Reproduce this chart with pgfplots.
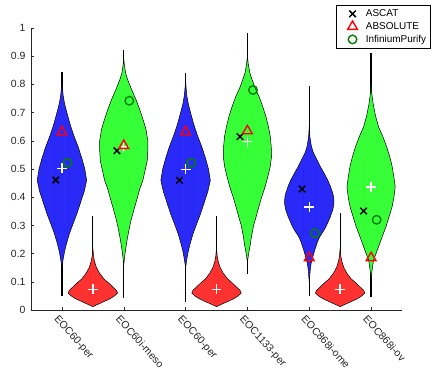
\documentclass[border=0pt]{standalone}
\usepackage{pgfplots}
\pgfplotsset{compat=1.18}
\usepackage{pgfplotstable}
\usepackage{fontspec}
\setmainfont{Liberation Sans}

\definecolor{vblue}{RGB}{42,42,248}
\definecolor{vblueD}{RGB}{0,0,255}
\definecolor{vgreen}{RGB}{55,255,55}
\definecolor{vgreenD}{RGB}{0,240,0}
\definecolor{vred}{RGB}{255,50,50}
\definecolor{vredD}{RGB}{240,0,0}
\definecolor{igreen}{RGB}{0,128,0}
\definecolor{tgray}{RGB}{38,38,38}

% violin outlines: y, half-width w (right side up, left side down)
\pgfplotstableread{
y w
0.15 0.00
0.18 0.02
0.21 0.045
0.24 0.08
0.27 0.12
0.30 0.17
0.34 0.24
0.38 0.30
0.42 0.36
0.46 0.40
0.50 0.37
0.54 0.32
0.58 0.26
0.62 0.19
0.66 0.13
0.70 0.08
0.73 0.045
0.76 0.02
0.79 0.008
0.81 0.00
0.79 -0.008
0.76 -0.02
0.73 -0.045
0.70 -0.08
0.66 -0.13
0.62 -0.19
0.58 -0.26
0.54 -0.32
0.50 -0.37
0.46 -0.40
0.42 -0.36
0.38 -0.30
0.34 -0.24
0.30 -0.17
0.27 -0.12
0.24 -0.08
0.21 -0.045
0.18 -0.02
0.15 0.00
}\violA

\pgfplotstableread{
y w
0.16 0.00
0.20 0.02
0.25 0.055
0.29 0.09
0.32 0.12
0.36 0.17
0.39 0.21
0.43 0.26
0.46 0.31
0.50 0.35
0.53 0.38
0.57 0.39
0.60 0.39
0.64 0.36
0.67 0.32
0.71 0.26
0.745 0.20
0.78 0.13
0.816 0.065
0.84 0.03
0.87 0.01
0.89 0.00
0.87 -0.01
0.84 -0.03
0.816 -0.065
0.78 -0.13
0.745 -0.20
0.71 -0.26
0.67 -0.32
0.64 -0.36
0.60 -0.39
0.57 -0.39
0.53 -0.38
0.50 -0.35
0.46 -0.31
0.43 -0.26
0.39 -0.21
0.36 -0.17
0.32 -0.12
0.29 -0.09
0.25 -0.055
0.20 -0.02
0.16 0.00
}\violB

\pgfplotstableread{
y w
0.17 0.00
0.20 0.02
0.23 0.045
0.26 0.065
0.30 0.10
0.33 0.14
0.37 0.19
0.40 0.23
0.44 0.29
0.473 0.33
0.51 0.37
0.544 0.39
0.58 0.385
0.615 0.37
0.65 0.34
0.685 0.30
0.72 0.25
0.756 0.19
0.79 0.12
0.82 0.07
0.84 0.04
0.87 0.015
0.90 0.00
0.87 -0.015
0.84 -0.04
0.82 -0.07
0.79 -0.12
0.756 -0.19
0.72 -0.25
0.685 -0.30
0.65 -0.34
0.615 -0.37
0.58 -0.385
0.544 -0.39
0.51 -0.37
0.473 -0.33
0.44 -0.29
0.40 -0.23
0.37 -0.19
0.33 -0.14
0.30 -0.10
0.26 -0.065
0.23 -0.045
0.20 -0.02
0.17 0.00
}\violD

\pgfplotstableread{
y w
0.10 0.00
0.12 0.008
0.14 0.015
0.165 0.03
0.19 0.06
0.213 0.09
0.24 0.13
0.26 0.17
0.28 0.23
0.295 0.27
0.31 0.30
0.33 0.34
0.355 0.38
0.378 0.40
0.40 0.395
0.414 0.38
0.44 0.34
0.46 0.30
0.485 0.24
0.51 0.175
0.535 0.12
0.556 0.07
0.58 0.035
0.615 0.01
0.65 0.00
0.615 -0.01
0.58 -0.035
0.556 -0.07
0.535 -0.12
0.51 -0.175
0.485 -0.24
0.46 -0.30
0.44 -0.34
0.414 -0.38
0.40 -0.395
0.378 -0.40
0.355 -0.38
0.33 -0.34
0.31 -0.30
0.295 -0.27
0.28 -0.23
0.26 -0.17
0.24 -0.13
0.213 -0.09
0.19 -0.06
0.165 -0.03
0.14 -0.015
0.12 -0.008
0.10 0.00
}\violE

\pgfplotstableread{
y w
0.11 0.00
0.13 0.01
0.155 0.025
0.177 0.04
0.20 0.08
0.224 0.12
0.26 0.18
0.295 0.24
0.33 0.29
0.366 0.34
0.40 0.37
0.437 0.39
0.47 0.37
0.51 0.34
0.545 0.30
0.58 0.25
0.615 0.19
0.65 0.12
0.69 0.07
0.73 0.035
0.77 0.01
0.80 0.00
0.77 -0.01
0.73 -0.035
0.69 -0.07
0.65 -0.12
0.615 -0.19
0.58 -0.25
0.545 -0.30
0.51 -0.34
0.47 -0.37
0.437 -0.39
0.40 -0.37
0.366 -0.34
0.33 -0.29
0.295 -0.24
0.26 -0.18
0.224 -0.12
0.20 -0.08
0.177 -0.04
0.155 -0.025
0.13 -0.01
0.11 0.00
}\violF

\pgfplotstableread{
y w
0.012 0.00
0.02 0.08
0.03 0.18
0.04 0.28
0.05 0.35
0.06 0.40
0.07 0.38
0.08 0.33
0.095 0.26
0.11 0.18
0.13 0.11
0.15 0.06
0.17 0.03
0.19 0.012
0.22 0.00
0.19 -0.012
0.17 -0.03
0.15 -0.06
0.13 -0.11
0.11 -0.18
0.095 -0.26
0.08 -0.33
0.07 -0.38
0.06 -0.40
0.05 -0.35
0.04 -0.28
0.03 -0.18
0.02 -0.08
0.012 0.00
}\violR

\begin{document}
\begin{tikzpicture}
\begin{axis}[
  at={(0,0)}, anchor=south west,
  scale only axis, width=371bp, height=282bp,
  xmin=0.5, xmax=6.5, ymin=0, ymax=1,
  axis x line*=bottom, axis y line*=left,
  xtick={1,2,3,4,5,6},
  xticklabels={EOC60-per, EOC60i-meso, EOC60-per, EOC1133-per, EOC868i-ome, EOC868i-ov},
  ytick={0,0.1,0.2,0.3,0.4,0.5,0.6,0.7,0.8,0.9,1},
  /pgf/number format/fixed,
  /pgf/number format/precision=1,
  /pgf/number format/assume math mode=true,
  tick style={tgray, line width=0.5pt}, major tick length=3.5pt,
  axis line style={tgray, line width=0.5pt},
  tick label style={font=\fontsize{10.5}{12}\selectfont, text=tgray},
  yticklabel style={xshift=-2pt},
  xticklabel style={font=\fontsize{10.5}{12}\selectfont, rotate=-48, anchor=north west, inner sep=1pt, yshift=-4pt, xshift=0.5pt},
  legend style={at={(1.078,1.082)}, anchor=north east, draw=black, line width=0.5pt,
    font=\fontsize{10}{11}\selectfont, row sep=0.3pt, inner sep=2.5pt},
  legend image code/.code={\path[draw=none,fill=none] (0cm,0cm) -- (0.9cm,0cm);
    \draw[#1] plot coordinates {(0.5cm,0cm)};},
  legend cell align=left,
]
% whiskers
\addplot[forget plot, black, line width=1.2pt] coordinates {(1,0.051) (1,0.845)};
\addplot[forget plot, black, line width=1.2pt] coordinates {(2,0.044) (2,0.922)};
\addplot[forget plot, black, line width=1.2pt] coordinates {(3,0.03) (3,0.839)};
\addplot[forget plot, black, line width=1.2pt] coordinates {(4,0.128) (4,0.981)};
\addplot[forget plot, black, line width=1.2pt] coordinates {(5,0.051) (5,0.794)};
\addplot[forget plot, black, line width=1.2pt] coordinates {(6,0.046) (6,0.91)};
\addplot[forget plot, black, line width=1.2pt] coordinates {(1.5,0.01) (1.5,0.333)};
\addplot[forget plot, black, line width=1.2pt] coordinates {(3.5,0.01) (3.5,0.333)};
\addplot[forget plot, black, line width=1.2pt] coordinates {(5.5,0.01) (5.5,0.343)};
% violins
\addplot[forget plot, fill=vblue, draw=black, line width=0.5pt] table[x expr=1+\thisrow{w}, y=y] {\violA};
\addplot[forget plot, fill=vblueD, draw=none, restrict y to domain=0.28:0.65] table[x expr={1+max(-0.12,min(0.12,\thisrow{w}))}, y=y] {\violA};
\addplot[forget plot, fill=vgreen, draw=black, line width=0.5pt] table[x expr=2+\thisrow{w}, y=y] {\violB};
\addplot[forget plot, fill=vgreenD, draw=none, restrict y to domain=0.34:0.73] table[x expr={2+max(-0.1,min(0.1,\thisrow{w}))}, y=y] {\violB};
\addplot[forget plot, fill=vblue, draw=black, line width=0.5pt] table[x expr=3+\thisrow{w}, y=y] {\violA};
\addplot[forget plot, fill=vblueD, draw=none, restrict y to domain=0.28:0.65] table[x expr={3+max(-0.12,min(0.12,\thisrow{w}))}, y=y] {\violA};
\addplot[forget plot, fill=vgreen, draw=black, line width=0.5pt] table[x expr=4+\thisrow{w}, y=y] {\violD};
\addplot[forget plot, fill=vgreenD, draw=none, restrict y to domain=0.36:0.75] table[x expr={4+max(-0.1,min(0.1,\thisrow{w}))}, y=y] {\violD};
\addplot[forget plot, fill=vblue, draw=black, line width=0.5pt] table[x expr=5+\thisrow{w}, y=y] {\violE};
\addplot[forget plot, fill=vblueD, draw=none, restrict y to domain=0.26:0.51] table[x expr={5+max(-0.1,min(0.1,\thisrow{w}))}, y=y] {\violE};
\addplot[forget plot, fill=vgreen, draw=black, line width=0.5pt] table[x expr=6+\thisrow{w}, y=y] {\violF};
\addplot[forget plot, fill=vgreenD, draw=none, restrict y to domain=0.224:0.60] table[x expr={6+max(-0.1,min(0.1,\thisrow{w}))}, y=y] {\violF};
\addplot[forget plot, fill=vred, draw=black, line width=0.5pt] table[x expr=1.5+\thisrow{w}, y=y] {\violR};
\addplot[forget plot, fill=vredD, draw=none, restrict y to domain=0.02:0.17] table[x expr={1.5+max(-0.03,min(0.03,\thisrow{w}))}, y=y] {\violR};
\addplot[forget plot, fill=vred, draw=black, line width=0.5pt] table[x expr=3.5+\thisrow{w}, y=y] {\violR};
\addplot[forget plot, fill=vredD, draw=none, restrict y to domain=0.02:0.17] table[x expr={3.5+max(-0.03,min(0.03,\thisrow{w}))}, y=y] {\violR};
\addplot[forget plot, fill=vred, draw=black, line width=0.5pt] table[x expr=5.5+\thisrow{w}, y=y] {\violR};
\addplot[forget plot, fill=vredD, draw=none, restrict y to domain=0.02:0.17] table[x expr={5.5+max(-0.03,min(0.03,\thisrow{w}))}, y=y] {\violR};
% medians
\addplot[forget plot, only marks, mark=+, mark size=5pt, white, line width=1.5pt]
  coordinates {(1,0.502) (2,0.578) (3,0.499) (4,0.597) (5,0.366) (6,0.437) (1.5,0.073) (3.5,0.073) (5.5,0.073)};
% estimates
\addplot[only marks, mark=x, mark size=4.6pt, black, line width=1.5pt]
  coordinates {(0.9,0.461) (1.89,0.565) (2.9,0.46) (3.88,0.615) (4.885,0.429) (5.88,0.351)};
\addlegendentry{ASCAT}
\addplot[only marks, mark=triangle, mark size=5.6pt, red, line width=1.4pt]
  coordinates {(1,0.632) (2,0.583) (3,0.632) (4,0.635) (5,0.185) (6,0.185)};
\addlegendentry{ABSOLUTE}
\addplot[only marks, mark=o, mark size=4.3pt, igreen, line width=1.4pt]
  coordinates {(1.09,0.522) (2.09,0.742) (3.09,0.522) (4.09,0.78) (5.09,0.272) (6.09,0.32)};
\addlegendentry{InfiniumPurify}
\end{axis}
\pgfresetboundingbox
\path[use as bounding box] (-31bp,-61bp) rectangle (401bp,310bp);
\end{tikzpicture}
\end{document}
